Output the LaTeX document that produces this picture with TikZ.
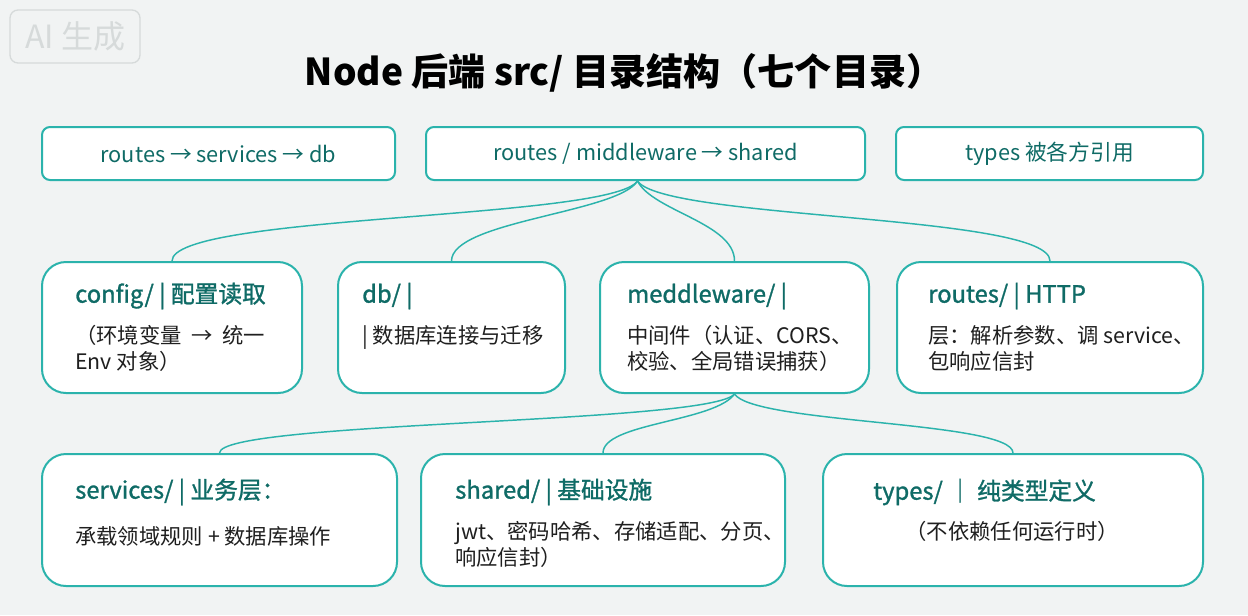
\documentclass[tikz,border=0pt]{standalone}
\usepackage{fontspec}
\setmainfont{Noto Sans CJK SC}
\newfontfamily\headfont{Noto Sans CJK SC}[FakeBold=1.2]
\definecolor{tealline}{HTML}{2BB3AC}
\definecolor{tealtext}{HTML}{0F6B66}
\definecolor{bgcol}{HTML}{F1F3F3}
\definecolor{markgray}{HTML}{D6DADA}

\begin{document}
\begin{tikzpicture}[x=0.75pt,y=-0.75pt,
  topbox/.style={draw=tealline,line width=1.5pt,fill=white,rounded corners=6pt,
    minimum height=39.75pt,inner sep=0pt,text=tealtext,font=\fontsize{16.3}{19}\selectfont},
  dirbox/.style={draw=tealline,line width=1.5pt,fill=white,rounded corners=18pt,inner sep=0pt},
  head/.style={anchor=west,inner sep=0pt,text=tealtext,font=\headfont\fontsize{17.8}{21}\selectfont},
  body/.style={anchor=north west,inner sep=0pt,align=left,text=black!88,font=\fontsize{16}{19.5}\selectfont},
  link/.style={draw=tealline,line width=1.1pt}]
\fill[bgcol] (0,0) rectangle (1248,615);
\node (mark) at (75,36.5) [draw=markgray,line width=1pt,rounded corners=6pt,minimum width=97.5pt,
  minimum height=39.75pt,text=markgray,font=\fontsize{24}{26}\selectfont] {AI 生成};
\node (title) at (624,73) [font=\fontsize{27.8}{32}\selectfont\bfseries] {Node 后端 src/ 目录结构（七个目录）};
% top row
\node (flow1) at (218.5,153.5) [topbox,minimum width=264.75pt] {routes → services → db};
\node (flow2) at (645.5,153.5) [topbox,minimum width=329.25pt] {routes / middleware → shared};
\node (flow3) at (1049.5,153.5) [topbox,minimum width=230.25pt] {types 被各方引用};
% directories
\node (cfg) at (172,327.5)  [dirbox,minimum width=195pt,minimum height=98.25pt] {};
\node (db)  at (451.5,327.5) [dirbox,minimum width=170.25pt,minimum height=98.25pt] {};
\node (mid) at (734.5,327.5) [dirbox,minimum width=201.75pt,minimum height=98.25pt] {};
\node (rts) at (1050,327.5)  [dirbox,minimum width=229.5pt,minimum height=98.25pt] {};
\node (srv) at (219.5,520) [dirbox,minimum width=266.25pt,minimum height=99pt] {};
\node (shr) at (603,520)   [dirbox,minimum width=273pt,minimum height=99pt] {};
\node (typ) at (1013,520)  [dirbox,minimum width=285pt,minimum height=99pt] {};
% texts
\node (cfgH) at (75,296)  [head] {config/ | 配置读取};
\node (cfgB) at (75,325)  [body] {（环境变量\ \ →\ \ 统一\\Env 对象）};
\node (dbH)  at (362,296) [head] {db/ |};
\node (dbB)  at (362,325) [body] {| 数据库连接与迁移};
\node (midH) at (627,296) [head] {meddleware/ |};
\node (midB) at (627,325) [body] {中间件（认证、CORS、\\校验、全局错误捕获）};
\node (rtsH) at (928,296) [head] {routes/ | HTTP};
\node (rtsB) at (928,325) [body] {层：解析参数、调 service、\\包响应信封};
\node (srvH) at (75,492)  [head] {services/ | 业务层：};
\node (srvB) at (75,526)  [body] {承载领域规则 + 数据库操作};
\node (shrH) at (455,492) [head] {shared/ | 基础设施};
\node (shrB) at (455,521) [body] {jwt、密码哈希、存储适配、分页、\\响应信封）};
\node (typH) at (873,492) [head] {types/ ｜ 纯类型定义};
\node (typB) at (1012,521) [body,anchor=north] {（不依赖任何运行时）};
% connectors
\draw [link] ([xshift=-6pt]flow2.south) .. controls +(-27,39) and +(0,-47) .. (cfg.north);
\draw [link] ([xshift=-6pt]flow2.south) .. controls +(-20,32) and +(0,-40) .. (db.north);
\draw [link] ([xshift=-6pt]flow2.south) .. controls +(15,30) and +(0,-38) .. (mid.north);
\draw [link] ([xshift=-6pt]flow2.south) .. controls +(27,39) and +(0,-47) .. (rts.north);
\draw [link] (mid.south) .. controls +(-25,30) and +(0,-32) .. (srv.north);
\draw [link] (mid.south) .. controls +(-20,28) and +(0,-30) .. (shr.north);
\draw [link] (mid.south) .. controls +(20,30) and +(0,-32) .. (typ.north);
\end{tikzpicture}
\end{document}
